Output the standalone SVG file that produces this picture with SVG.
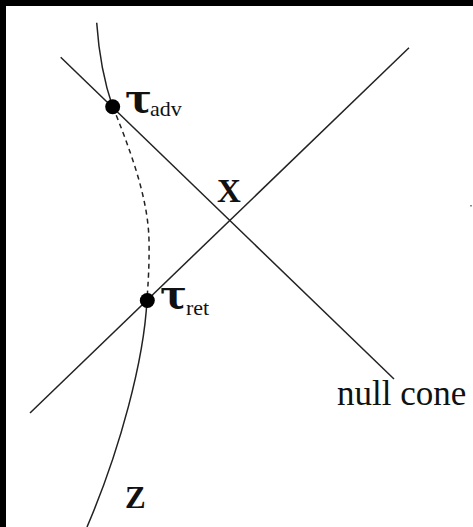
<svg xmlns="http://www.w3.org/2000/svg" width="473" height="527" viewBox="0 0 473 527">
<style>
.ln{fill:none;stroke:#222;stroke-width:1.5}
.dash{fill:none;stroke:#222;stroke-width:1.5;stroke-dasharray:5 4}
.lbl{font-family:"Liberation Serif","Times New Roman",serif;fill:#111}
.tau{font-family:"DejaVu Serif","Liberation Serif",serif;font-weight:bold;fill:#111}
.b{font-weight:bold}
</style>
<rect x="0" y="0" width="473" height="527" fill="#fff"/>
<rect x="0" y="0" width="473" height="6" fill="#000"/>
<rect x="0" y="0" width="6" height="527" fill="#000"/>
<g id="connectors">
<line class="ln" x1="60.7" y1="57.3" x2="394" y2="379"/>
<line class="ln" x1="409" y1="47.7" x2="30" y2="413"/>
<path class="ln" d="M96.7,22.7 Q100,70 112.7,107"/>
<path class="dash" d="M113,107 C128,145 148,195 149,240 C149.5,265 148,285 147,300"/>
<path class="ln" d="M147,300 C144,360 120,450 87,527"/>
</g>
<g id="tau_adv">
<circle cx="112.7" cy="106.7" r="7.5" fill="#000"/>
<text class="tau" x="125" y="112" font-size="40">τ</text>
<text class="lbl" x="150" y="116" font-size="22">adv</text>
</g>
<g id="tau_ret">
<circle cx="147.3" cy="300.5" r="7.5" fill="#000"/>
<text class="tau" x="160" y="308" font-size="40">τ</text>
<text class="lbl" x="186" y="315" font-size="22">ret</text>
</g>
<g id="x">
<text class="lbl b" x="217" y="201.5" font-size="33">X</text>
</g>
<g id="z">
<text class="lbl b" x="125" y="508" font-size="31">Z</text>
</g>
<g id="nullcone">
<text class="lbl" x="337" y="405" font-size="35">null cone</text>
</g>
<rect x="470" y="205" width="2" height="1.5" fill="#888"/>
</svg>
